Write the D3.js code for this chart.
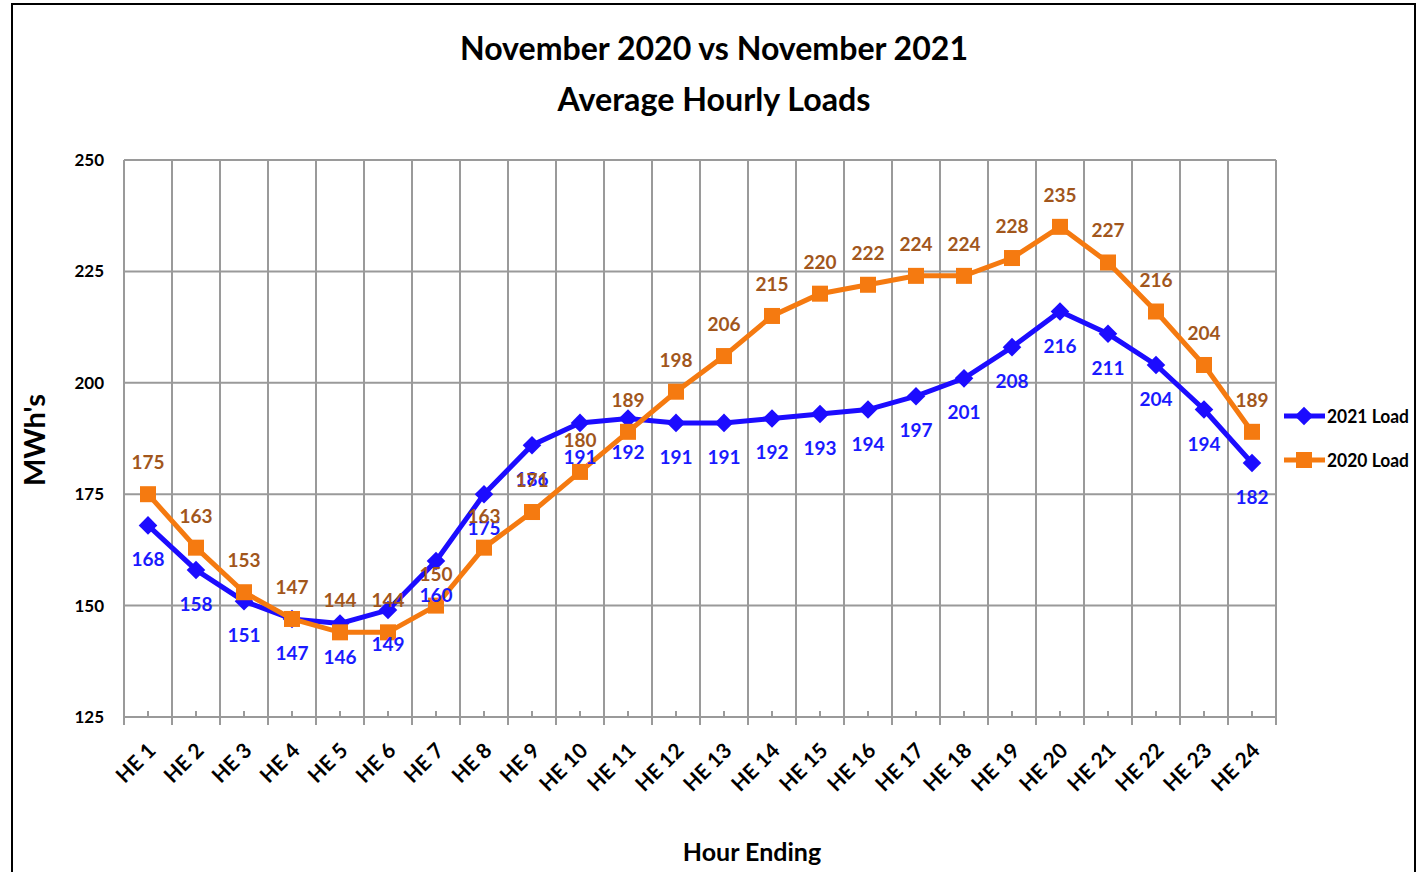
<!DOCTYPE html>
<html>
<head>
<meta charset="utf-8">
<script src="https://cdn.jsdelivr.net/npm/d3@7"></script>
<style>
  body { margin: 0; background: #fff; }
  svg { display: block; font-family: Lato, "Open Sans", sans-serif; }
</style>
</head>
<body>
<svg id="chart" width="1425" height="872"></svg>
<script>
// Hour labels and average loads (MWh's)
const hours = d3.range(1, 25).map(h => "HE " + h);
const load2021 = [168, 158, 151, 147, 146, 149, 160, 175, 186, 191, 192, 191,
                  191, 192, 193, 194, 197, 201, 208, 216, 211, 204, 194, 182];
const load2020 = [175, 163, 153, 147, 144, 144, 150, 163, 171, 180, 189, 198,
                  206, 215, 220, 222, 224, 224, 228, 235, 227, 216, 204, 189];
const yTicks = [125, 150, 175, 200, 225, 250];

const svg = d3.select("#chart");
const margin = {left: 124, right: 1276, top: 160, bottom: 717};

// outer frame
svg.append("rect")
    .attr("x", 12).attr("y", 4)
    .attr("width", 1403).attr("height", 900)
    .attr("fill", "none").attr("stroke", "#000").attr("stroke-width", 2);

// Title
svg.append("text").attr("x", 714).attr("y", 60)
    .attr("text-anchor", "middle").attr("font-size", 32).attr("font-weight", "bold")
    .attr("textLength", 508).attr("lengthAdjust", "spacingAndGlyphs")
    .text("November 2020 vs November 2021");
svg.append("text").attr("x", 714).attr("y", 111)
    .attr("text-anchor", "middle").attr("font-size", 32).attr("font-weight", "bold")
    .attr("textLength", 313).attr("lengthAdjust", "spacingAndGlyphs")
    .text("Average Hourly Loads");

// scales
const x = d3.scaleBand().domain(hours).range([margin.left, margin.right]);
const y = d3.scaleLinear().domain([125, 250]).range([margin.bottom, margin.top]);
const cx = d => x(d) + x.bandwidth() / 2;

const grid = svg.append("g").attr("stroke", "#9a9a9a").attr("stroke-width", 2);

// horizontal gridlines
grid.selectAll(".hg").data(yTicks).join("line")
    .attr("x1", margin.left).attr("x2", margin.right)
    .attr("y1", d => y(d)).attr("y2", d => y(d));

// vertical gridlines at category boundaries (extend below as major ticks)
const bounds = hours.map(h => x(h)).concat([margin.right]);
grid.selectAll(".vg").data(bounds).join("line")
    .attr("x1", d => d).attr("x2", d => d)
    .attr("y1", margin.top).attr("y2", margin.bottom + 8);

// minor ticks at category centres
grid.selectAll(".mt").data(hours).join("line")
    .attr("x1", d => cx(d)).attr("x2", d => cx(d))
    .attr("y1", margin.bottom - 6).attr("y2", margin.bottom);

// y tick labels
svg.selectAll(".yl").data(yTicks).join("text")
    .attr("x", 104).attr("y", d => y(d) + 6)
    .attr("text-anchor", "end").attr("font-size", 17).attr("font-weight", "bold")
    .text(d => d);

// x tick labels
svg.selectAll(".xl").data(hours).join("text")
    .attr("transform", d => `translate(${cx(d) + 9},${752}) rotate(-45)`)
    .attr("text-anchor", "end").attr("font-size", 21).attr("font-weight", "bold")
    .text(d => d);

// axis titles
svg.append("text")
    .attr("transform", "translate(45,440) rotate(-90)")
    .attr("text-anchor", "middle").attr("font-size", 29).attr("font-weight", "bold")
    .text("MWh's");
svg.append("text").attr("x", 752).attr("y", 861)
    .attr("text-anchor", "middle").attr("font-size", 25).attr("font-weight", "bold")
    .text("Hour Ending");

const blue = "#1c0cff", orange = "#f57a10";
const blueLabel = "#1a1aff", orangeLabel = "#a1561c";

const line = d3.line().x((d, i) => cx(hours[i])).y(d => y(d));

// 2021 series
svg.append("path").datum(load2021)
    .attr("d", line).attr("fill", "none").attr("stroke", blue).attr("stroke-width", 5);
svg.selectAll(".m21").data(load2021).join("path")
    .attr("transform", (d, i) => `translate(${cx(hours[i])},${y(d)})`)
    .attr("d", d3.symbol(d3.symbolDiamond2, 220))
    .attr("fill", blue);

// 2020 series
svg.append("path").datum(load2020)
    .attr("d", line).attr("fill", "none").attr("stroke", orange).attr("stroke-width", 5);
svg.selectAll(".m20").data(load2020).join("rect")
    .attr("x", (d, i) => cx(hours[i]) - 8).attr("y", d => y(d) - 8)
    .attr("width", 16).attr("height", 16)
    .attr("fill", orange);

// data labels
svg.selectAll(".l21").data(load2021).join("text")
    .attr("x", (d, i) => cx(hours[i])).attr("y", d => y(d) + 41)
    .attr("text-anchor", "middle").attr("font-size", 19).attr("font-weight", "bold")
    .attr("fill", blueLabel).text(d => d);
svg.selectAll(".l20").data(load2020).join("text")
    .attr("x", (d, i) => cx(hours[i])).attr("y", d => y(d) - 25)
    .attr("text-anchor", "middle").attr("font-size", 19).attr("font-weight", "bold")
    .attr("fill", orangeLabel).text(d => d);

// legend
const legend = [
  {name: "2021 Load", color: blue, shape: "diamond", y: 416},
  {name: "2020 Load", color: orange, shape: "square", y: 460}
];
const lg = svg.append("g");
legend.forEach(l => {
  lg.append("line").attr("x1", 1284).attr("x2", 1325)
      .attr("y1", l.y).attr("y2", l.y)
      .attr("stroke", l.color).attr("stroke-width", 5);
  if (l.shape === "diamond") {
    lg.append("path").attr("transform", `translate(1304,${l.y})`)
        .attr("d", d3.symbol(d3.symbolDiamond2, 220)).attr("fill", l.color);
  } else {
    lg.append("rect").attr("x", 1296).attr("y", l.y - 8)
        .attr("width", 16).attr("height", 16).attr("fill", l.color);
  }
  lg.append("text").attr("x", 1327).attr("y", l.y + 7)
      .attr("font-size", 18).attr("font-weight", "bold")
      .attr("textLength", 82).attr("lengthAdjust", "spacingAndGlyphs")
      .text(l.name);
});
</script>
</body>
</html>
